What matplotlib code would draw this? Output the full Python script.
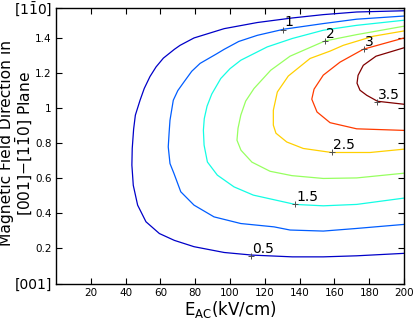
import matplotlib.pyplot as plt
import numpy as np

# contour levels and the curves (E in kV/cm, theta in rad)
levels = [0.5, 1.0, 1.5, 2.0, 2.5, 3.0, 3.5]

e_05 = [200, 172.8, 153.6, 135.8, 112.8, 96.6, 79.3, 68.0, 59.4, 51.7, 46.9, 44.4, 43.6, 43.8,
        44.6, 45.6, 48.3, 50.7, 54.0, 57.5, 61.7, 68.0, 71.3, 79.3, 96.6, 115.7, 135.8, 153.6, 172.8, 200]
t_05 = [0.172, 0.158, 0.152, 0.152, 0.162, 0.177, 0.210, 0.246, 0.285, 0.352, 0.447, 0.560, 0.675, 0.770,
        0.880, 0.960, 1.045, 1.112, 1.180, 1.235, 1.285, 1.335, 1.358, 1.400, 1.453, 1.488, 1.514, 1.533, 1.548, 1.555]

e_10 = [200, 172.8, 153.6, 134.5, 125.3, 106.2, 90.8, 79.3, 71.7, 67.8, 65.5, 64.5, 65.0, 65.5,
        67.4, 70.0, 73.6, 78.0, 82.8, 92.4, 96.6, 105.0, 115.7, 131.0, 153.6, 172.8, 200]
t_10 = [0.337, 0.314, 0.299, 0.305, 0.323, 0.342, 0.380, 0.447, 0.523, 0.627, 0.684, 0.779, 0.860, 0.931,
        1.045, 1.100, 1.150, 1.210, 1.255, 1.310, 1.335, 1.380, 1.415, 1.450, 1.482, 1.507, 1.525]

e_15 = [200, 172.8, 153.6, 137.4, 113.4, 102.3, 92.7, 87.0, 85.1, 84.7, 85.2, 86.8, 89.5, 94.7,
        100.0, 106.2, 121.4, 135.8, 153.6, 172.8, 200]
t_15 = [0.487, 0.451, 0.443, 0.451, 0.504, 0.551, 0.618, 0.693, 0.789, 0.874, 0.940, 1.011, 1.080, 1.169,
        1.225, 1.273, 1.349, 1.397, 1.444, 1.472, 1.501]

e_20 = [200, 172.8, 153.6, 135.6, 123.0, 112.6, 106.3, 104.0, 104.6, 106.2, 109.0, 113.8, 123.4, 134.5,
        154.6, 172.8, 200]
t_20 = [0.629, 0.602, 0.599, 0.615, 0.640, 0.692, 0.760, 0.817, 0.885, 0.960, 1.040, 1.112, 1.216, 1.296,
        1.383, 1.419, 1.467]

e_25 = [200, 180.5, 158.4, 142.1, 132.6, 126.4, 124.9, 124.9, 127.2, 133.5, 146.0, 157.5, 165.1, 182.4, 200]
t_25 = [0.766, 0.747, 0.747, 0.770, 0.807, 0.857, 0.903, 0.988, 1.092, 1.183, 1.283, 1.325, 1.358, 1.410, 1.440]

e_30 = [200, 172.8, 157.5, 150.0, 147.0, 148.3, 153.6, 163.2, 176.7, 200]
t_30 = [0.873, 0.882, 0.917, 0.978, 1.051, 1.108, 1.188, 1.262, 1.336, 1.400]

e_35 = [200, 184.8, 178.6, 174.7, 173.0, 173.6, 176.6, 183.9, 200]
t_35 = [1.022, 1.039, 1.073, 1.102, 1.142, 1.187, 1.244, 1.296, 1.344]

# where the inline labels sit (the "+" marks)
label_e = [112.3, 130.5, 137.4, 154.6, 158.4, 177.0, 184.3]
label_t = [0.157, 1.448, 0.451, 1.383, 0.747, 1.336, 1.035]
label_txt = ['0.5', '1', '1.5', '2', '2.5', '3', '3.5']

curves = [(e_05, t_05), (e_10, t_10), (e_15, t_15), (e_20, t_20),
          (e_25, t_25), (e_30, t_30), (e_35, t_35)]

fig = plt.figure(figsize=(4.15, 3.2), dpi=100)
ax = fig.add_axes([0.135, 0.114, 0.8385, 0.861])

norm = plt.Normalize(0.3, 3.5)
for lvl, (e, t) in zip(levels, curves):
    ax.plot(e, t, color=plt.cm.jet(norm(lvl)), lw=0.9)

for e, t, s in zip(label_e, label_t, label_txt):
    ax.plot(e, t, '+', color='0.3', ms=4, mew=0.7)
    ax.annotate(s, (e, t), xytext=(0.8, 2.2), textcoords='offset points',
                ha='left', va='baseline', fontsize=10)

ax.set_xlim(0, 200)
ax.set_ylim(0, np.pi / 2)
ax.set_xticks(range(20, 201, 20))
ax.set_xticklabels([str(v) for v in range(20, 201, 20)], fontsize=7.5)
yt = [0, 0.2, 0.4, 0.6, 0.8, 1.0, 1.2, 1.4, np.pi / 2]
ax.set_yticks(yt)
ylabs = ax.set_yticklabels(['[001]', '0.2', '0.4', '0.6', '0.8', '1', '1.2', '1.4', r'[1$\bar{1}$0]'])
for i, lab in enumerate(ylabs):
    lab.set_fontsize(10 if i in (0, len(ylabs) - 1) else 7.5)
ax.tick_params(direction='in', top=True, right=True, length=4, width=0.8, pad=3)
for sp in ax.spines.values():
    sp.set_linewidth(1.0)

ax.set_xlabel(r'E$_{\mathregular{AC}}$(kV/cm)', fontsize=12, labelpad=1)
ax.set_ylabel('Magnetic Field Direction in\n[001]$-$[1$\\bar{1}$0] Plane', fontsize=11.2,
              linespacing=1.0)
ax.yaxis.set_label_coords(-0.063, 0.51)

fig.savefig('out.png', dpi=100)
